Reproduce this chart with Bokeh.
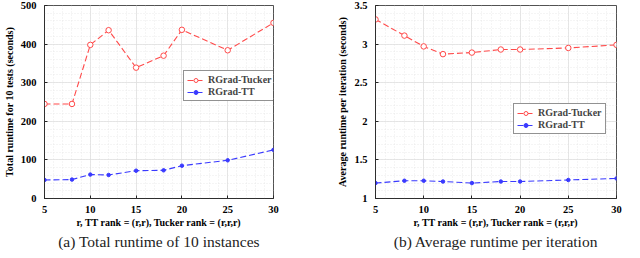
from bokeh.plotting import figure
from bokeh.layouts import row
from bokeh.models import Range1d, FixedTicker, Legend, LegendItem, Title
from bokeh.embed import file_html
from bokeh.resources import INLINE

r_vals = [5, 8, 10, 12, 15, 18, 20, 25, 30]
total_tucker = [245, 245, 398, 436, 339, 370, 437, 384, 455]
total_tt = [48, 49, 62, 61, 72, 73, 85, 99, 126]
avg_tucker = [3.32, 3.11, 2.97, 2.87, 2.89, 2.93, 2.93, 2.95, 2.99]
avg_tt = [1.20, 1.23, 1.23, 1.22, 1.20, 1.22, 1.22, 1.24, 1.26]

x_ticks = [5, 10, 15, 20, 25, 30]
left_yticks = [0, 100, 200, 300, 400, 500]
right_yticks = [1, 1.5, 2, 2.5, 3, 3.5]

xlabel = "r, TT rank = (r,r), Tucker rank = (r,r,r)"
RED = "#ff4a4a"
BLUE = "#3a3aff"
FONT = "Liberation Serif"
HEIGHT = 250


def make_panel(width, yrange, yticks, yminor, ylabel, tucker, tt, caption,
               border_left, border_right, legend_xy):
    p = figure(width=width, height=HEIGHT, output_backend="svg", toolbar_location=None,
               x_range=Range1d(5, 30), y_range=Range1d(*yrange),
               min_border_left=border_left, min_border_right=border_right,
               min_border_top=5, min_border_bottom=20)
    p.outline_line_color = "#262626"
    p.outline_line_width = 0.8
    p.background_fill_color = "white"
    p.border_fill_color = "white"

    p.xaxis.ticker = FixedTicker(ticks=x_ticks, minor_ticks=list(range(5, 31)))
    p.yaxis.ticker = FixedTicker(ticks=yticks, minor_ticks=yminor)
    for ax in (p.xaxis, p.yaxis):
        ax.major_label_text_font = FONT
        ax.major_label_text_font_style = "bold"
        ax.major_label_text_font_size = "10.5px"
        ax.major_label_text_color = "black"
        ax.axis_label_text_font = FONT
        ax.axis_label_text_font_style = "bold"
        ax.axis_label_text_font_size = "10px"
        ax.axis_label_text_color = "black"
        ax.axis_line_color = "#262626"
        ax.axis_line_width = 0.8
        ax.major_tick_in = 3
        ax.major_tick_out = 0
        ax.major_tick_line_color = "#262626"
        ax.minor_tick_line_color = None
    p.xaxis.major_label_standoff = 3
    p.yaxis.major_label_standoff = 4
    p.xaxis.axis_label = xlabel
    p.xaxis.axis_label_standoff = 1
    p.yaxis.axis_label = ylabel
    p.yaxis.axis_label_standoff = 3

    for g in (p.xgrid, p.ygrid):
        g.grid_line_color = "#dcdcdc"
        g.grid_line_width = 0.7
        g.minor_grid_line_color = "#e4e4e4"
        g.minor_grid_line_dash = "1 2"
        g.minor_grid_line_width = 0.7

    l1 = p.line(r_vals, tucker, line_color=RED, line_dash="6 3", line_width=1.1)
    c1 = p.scatter(r_vals, tucker, marker="circle", size=5.5, fill_color="white",
                   line_color=RED, line_width=1)
    l2 = p.line(r_vals, tt, line_color=BLUE, line_dash="6 3", line_width=1.1)
    c2 = p.scatter(r_vals, tt, marker="circle", size=3.5, fill_color=BLUE,
                   line_color=BLUE)

    legend = Legend(items=[LegendItem(label="RGrad-Tucker", renderers=[l1, c1]),
                           LegendItem(label="RGrad-TT", renderers=[l2, c2])],
                    location=legend_xy)
    legend.label_text_font = FONT
    legend.label_text_font_style = "bold"
    legend.label_text_font_size = "10px"
    legend.label_height = 10
    legend.label_width = 62
    legend.glyph_height = 10
    legend.glyph_width = 17
    legend.label_standoff = 4
    legend.spacing = 1
    legend.padding = 3
    legend.margin = 0
    legend.border_line_color = "#262626"
    legend.border_line_width = 0.8
    legend.background_fill_alpha = 1
    p.add_layout(legend, "center")

    cap = Title(text=caption, align="center", text_font=FONT,
                text_font_style="normal", text_font_size="15.5px",
                text_color="#222222", standoff=1)
    p.add_layout(cap, "below")
    return p


left = make_panel(310, (0, 500), left_yticks, list(range(0, 501, 20)),
                  "Total runtime for 10 tests (seconds)", total_tucker, total_tt,
                  "(a) Total runtime of 10 instances", 32, 37, (139, 97))
right = make_panel(314, (1, 3.5), right_yticks, [1 + 0.1 * i for i in range(26)],
                   "Average runtime per iteration (seconds)", avg_tucker, avg_tt,
                   "(b) Average runtime per iteration", 65, 8, (138, 64))

layout = row(left, right)
open("out.html", "w").write(file_html(layout, INLINE))
